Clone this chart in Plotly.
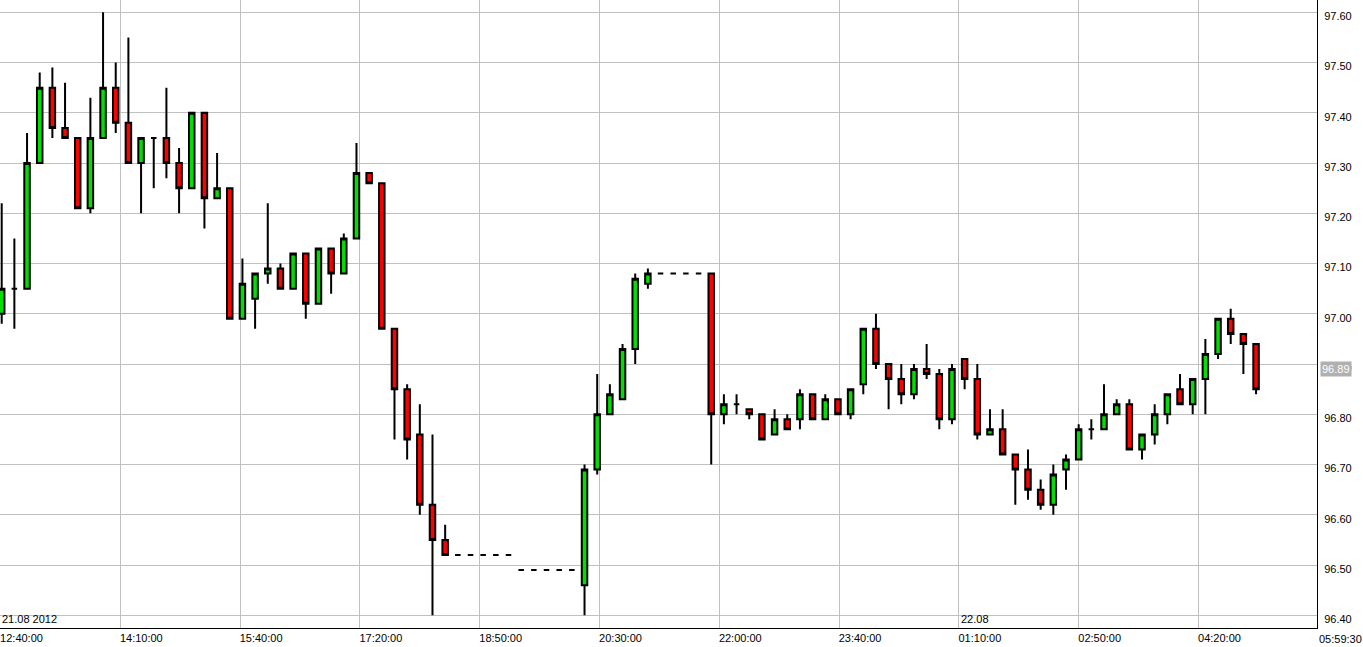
import plotly.graph_objects as go

# ---- data (10-minute candles starting 21.08.2012 12:40) ----
start_label = "21.08 2012"
bar_minutes = 10
opens = [97.00, 97.05, 97.05, 97.30, 97.45, 97.37, 97.35, 97.21, 97.35, 97.45,
         97.38, 97.30, 97.35, 97.35, 97.30, 97.25, 97.40, 97.23, 97.25, 96.99,
         97.03, 97.08, 97.09, 97.05, 97.12, 97.02, 97.13, 97.08, 97.15, 97.28,
         97.26, 96.97, 96.85, 96.76, 96.62, 96.55, 96.52, 96.52, 96.52, 96.52,
         96.52, 96.49, 96.49, 96.49, 96.49, 96.49, 96.46, 96.69, 96.80, 96.83,
         96.93, 97.06, 97.08, 97.08, 97.08, 97.08, 97.08, 96.80, 96.82, 96.81,
         96.80, 96.76, 96.79, 96.79, 96.84, 96.79, 96.83, 96.80, 96.86, 96.97,
         96.90, 96.87, 96.84, 96.89, 96.88, 96.79, 96.91, 96.87, 96.76, 96.77,
         96.72, 96.69, 96.65, 96.62, 96.69, 96.71, 96.77, 96.77, 96.80, 96.82,
         96.73, 96.76, 96.80, 96.85, 96.82, 96.87, 96.92, 96.99, 96.96, 96.94]
highs = [97.22, 97.15, 97.36, 97.48, 97.49, 97.46, 97.35, 97.43, 97.60, 97.50,
         97.55, 97.35, 97.35, 97.45, 97.33, 97.40, 97.40, 97.32, 97.25, 97.11,
         97.08, 97.22, 97.10, 97.12, 97.12, 97.13, 97.13, 97.16, 97.34, 97.28,
         97.26, 96.97, 96.86, 96.82, 96.76, 96.58, 96.52, 96.52, 96.52, 96.52,
         96.52, 96.49, 96.49, 96.49, 96.49, 96.49, 96.70, 96.88, 96.86, 96.94,
         97.08, 97.09, 97.08, 97.08, 97.08, 97.08, 97.08, 96.84, 96.84, 96.81,
         96.80, 96.81, 96.80, 96.85, 96.84, 96.84, 96.83, 96.85, 96.97, 97.00,
         96.90, 96.90, 96.90, 96.94, 96.89, 96.90, 96.91, 96.90, 96.81, 96.81,
         96.72, 96.73, 96.67, 96.70, 96.72, 96.78, 96.79, 96.86, 96.83, 96.83,
         96.76, 96.82, 96.84, 96.88, 96.87, 96.95, 96.99, 97.01, 96.96, 96.94]
lows = [96.98, 96.97, 97.05, 97.30, 97.35, 97.35, 97.21, 97.20, 97.35, 97.36,
        97.30, 97.20, 97.25, 97.27, 97.20, 97.25, 97.17, 97.23, 96.99, 96.99,
        96.97, 97.06, 97.05, 97.05, 96.99, 97.02, 97.04, 97.08, 97.15, 97.26,
        96.97, 96.75, 96.71, 96.60, 96.40, 96.52, 96.52, 96.52, 96.52, 96.52,
        96.52, 96.49, 96.49, 96.49, 96.49, 96.49, 96.40, 96.68, 96.80, 96.83,
        96.90, 97.05, 97.08, 97.08, 97.08, 97.08, 96.70, 96.78, 96.80, 96.79,
        96.75, 96.76, 96.77, 96.77, 96.79, 96.79, 96.80, 96.79, 96.84, 96.89,
        96.81, 96.82, 96.83, 96.87, 96.77, 96.78, 96.85, 96.75, 96.76, 96.72,
        96.62, 96.63, 96.61, 96.60, 96.65, 96.71, 96.75, 96.77, 96.80, 96.73,
        96.71, 96.74, 96.78, 96.82, 96.80, 96.80, 96.91, 96.94, 96.88, 96.84]
closes = [97.05, 97.05, 97.30, 97.45, 97.37, 97.35, 97.21, 97.35, 97.45, 97.38,
          97.30, 97.35, 97.35, 97.30, 97.25, 97.40, 97.23, 97.25, 96.99, 97.06,
          97.08, 97.09, 97.05, 97.12, 97.02, 97.13, 97.08, 97.15, 97.28, 97.26,
          96.97, 96.85, 96.75, 96.62, 96.55, 96.52, 96.52, 96.52, 96.52, 96.52,
          96.52, 96.49, 96.49, 96.49, 96.49, 96.49, 96.69, 96.80, 96.84, 96.93,
          97.07, 97.08, 97.08, 97.08, 97.08, 97.08, 96.80, 96.82, 96.82, 96.80,
          96.75, 96.79, 96.77, 96.84, 96.79, 96.83, 96.80, 96.85, 96.97, 96.90,
          96.87, 96.84, 96.89, 96.88, 96.79, 96.89, 96.87, 96.76, 96.77, 96.72,
          96.69, 96.65, 96.62, 96.68, 96.71, 96.77, 96.77, 96.80, 96.82, 96.73,
          96.76, 96.80, 96.84, 96.82, 96.87, 96.92, 96.99, 96.96, 96.94, 96.85]

tick_labels = ["12:40:00", "14:10:00", "15:40:00", "17:20:00", "18:50:00",
               "20:30:00", "22:00:00", "23:40:00", "01:10:00", "02:50:00", "04:20:00"]
end_label = "05:59:30"
day2_label = "22.08"
day2_tick_index = 8
marker_price = 96.89

# ---- positions (minutes since 12:40) ----
x_minutes = [i * bar_minutes for i in range(len(opens))]
grid_step = 94.55
grid_x = [-0.945 + grid_step * k for k in range(len(tick_labels))]
x_range = [-1.34, 1038.1]
y_range = [96.3747, 97.6245]

GREEN = "#00e000"
RED = "#ff0000"
FONT = "Liberation Sans"

fig = go.Figure(go.Candlestick(
    x=x_minutes, open=opens, high=highs, low=lows, close=closes,
    increasing=dict(line=dict(color="black", width=2), fillcolor=GREEN),
    decreasing=dict(line=dict(color="black", width=2), fillcolor=RED),
    whiskerwidth=0, showlegend=False, hoverinfo="skip",
))

fig.update_layout(
    width=1363, height=647,
    margin=dict(l=0, r=46, t=0, b=19),
    paper_bgcolor="white", plot_bgcolor="white",
    boxgap=0.38,
    font=dict(family=FONT, size=11, color="black"),
    xaxis=dict(
        range=x_range, rangeslider=dict(visible=False),
        tickmode="array", tickvals=grid_x, ticktext=tick_labels,
        showgrid=True, gridcolor="#c0c0c0", gridwidth=1, zeroline=False,
        showline=True, linecolor="black", linewidth=1, mirror=True,
        ticks="", ticklabelshift=21, ticklabelstandoff=0,
        tickfont=dict(family=FONT, size=11, color="black"),
    ),
    yaxis=dict(
        range=y_range, side="right",
        tickmode="linear", tick0=96.4, dtick=0.1, tickformat=".2f",
        showgrid=True, gridcolor="#c0c0c0", gridwidth=1, zeroline=False,
        showline=True, linecolor="black", linewidth=1, mirror=True,
        ticks="", ticklabelshift=4, ticklabelstandoff=4,
        tickfont=dict(family=FONT, size=11, color="black"),
    ),
    annotations=[
        dict(text=start_label, xref="paper", yref="paper", x=0, y=0,
             xanchor="left", yanchor="bottom", showarrow=False,
             font=dict(family=FONT, size=11, color="black"), yshift=1),
        dict(text=day2_label, xref="x", yref="paper", x=grid_x[day2_tick_index], y=0,
             xanchor="left", yanchor="bottom", showarrow=False,
             font=dict(family=FONT, size=11, color="black"), yshift=1),
        dict(text=end_label, xref="paper", yref="paper", x=1, y=0,
             xanchor="left", yanchor="top", showarrow=False,
             font=dict(family=FONT, size=11, color="black"), yshift=-3),
        dict(text=f"{marker_price:.2f}", xref="paper", yref="y", x=1, y=marker_price,
             xanchor="left", yanchor="middle", showarrow=False, xshift=3,
             bgcolor="#b0b0b0", borderpad=1,
             font=dict(family=FONT, size=11, color="white")),
    ],
)

fig.write_html(
    "out.html",
    config={"displayModeBar": False},
    post_script="document.body.style.margin='0';document.body.style.overflow='hidden';",
)
